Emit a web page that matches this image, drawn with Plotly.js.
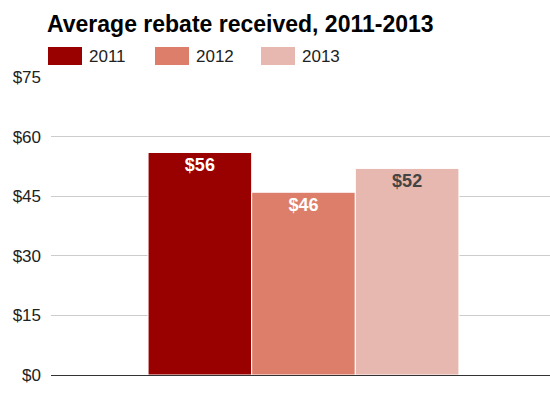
<!DOCTYPE html>
<html>
<head>
<meta charset="utf-8">
<script src="https://cdn.plot.ly/plotly-3.0.1.min.js"></script>
<style>html,body{margin:0;padding:0;background:#fff;}#chart{width:550px;height:398px;}</style>
</head>
<body>
<div id="chart"></div>
<script>
const categories = ['Average rebate'];
const seriesNames = ['2011', '2012', '2013'];
const seriesValues = [[56], [46], [52]];
const seriesColors = ['#990000', '#dd7e6b', '#e6b8af'];
const labelColors = ['#ffffff', '#ffffff', '#444444'];
const yTickVals = [0, 15, 30, 45, 60, 75];
const yTickText = ['$0', '$15', '$30', '$45', '$60', '$75'];

const font = 'Arial, "Liberation Sans", sans-serif';

const traces = seriesNames.map((name, i) => ({
  type: 'bar',
  name: name,
  x: categories,
  y: seriesValues[i],
  marker: {color: seriesColors[i], line: {color: '#ffffff', width: 1}},
  text: seriesValues[i].map(v => '$' + v),
  textposition: 'inside',
  insidetextanchor: 'end',
  textangle: 0,
  textfont: {family: font, size: 18, color: labelColors[i], weight: 'bold'},
  hoverinfo: 'skip',
  showlegend: false
}));

// legend swatches and labels (paper coordinates)
const legendX = [48, 155, 261];
const shapes = [];
const annotations = [];
seriesNames.forEach((name, i) => {
  shapes.push({type: 'rect', xref: 'paper', yref: 'paper',
    x0: (legendX[i] - 51) / 499, x1: (legendX[i] + 34 - 51) / 499,
    y0: (375 - 65) / 298, y1: (375 - 47) / 298,
    fillcolor: seriesColors[i], line: {width: 0}});
  annotations.push({xref: 'paper', yref: 'paper',
    x: (legendX[i] + 39 - 51) / 499, y: (375 - 56) / 298,
    xanchor: 'left', yanchor: 'middle', showarrow: false,
    text: name, font: {family: font, size: 17, color: '#222222'}});
});

const layout = {
  width: 550, height: 398,
  margin: {l: 51, r: 0, t: 77, b: 23},
  paper_bgcolor: '#ffffff', plot_bgcolor: '#ffffff',
  title: {text: '<b>Average rebate received, 2011-2013</b>',
    font: {family: font, size: 23, color: '#000000'},
    x: 47 / 550, xanchor: 'left', xref: 'container', y: 1 - 24 / 398, yanchor: 'middle', yref: 'container'},
  barmode: 'group',
  bargap: 0.377,
  bargroupgap: 0,
  showlegend: false,
  xaxis: {type: 'category', range: [-0.506, 0.494], showticklabels: false,
    showgrid: false, zeroline: false, showline: false, ticks: '', fixedrange: true},
  yaxis: {range: [0, 75], tickvals: yTickVals, ticktext: yTickText,
    showgrid: true, gridcolor: '#cccccc', gridwidth: 1,
    zeroline: true, zerolinecolor: '#333333', zerolinewidth: 1,
    showline: false, ticks: '', ticklabelstandoff: 9,
    tickfont: {family: font, size: 17, color: '#222222'}, fixedrange: true},
  shapes: shapes,
  annotations: annotations
};

Plotly.newPlot('chart', traces, layout, {displayModeBar: false, staticPlot: true});
</script>
</body>
</html>
